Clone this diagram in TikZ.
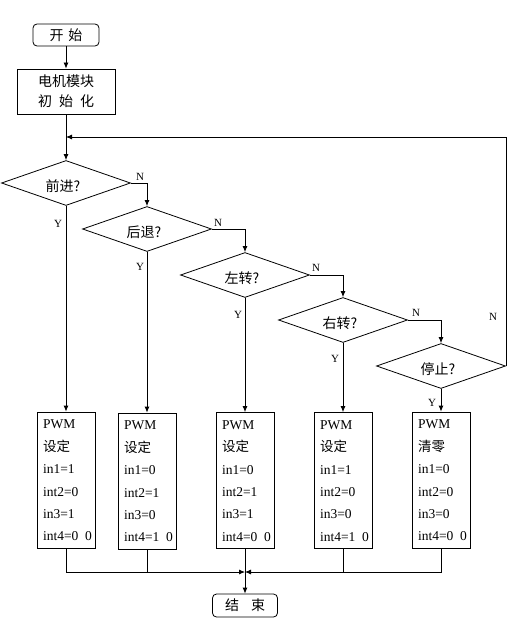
\documentclass[tikz,border=0pt]{standalone}
\usepackage{fontspec}
\setmainfont{Liberation Serif}
\newfontfamily\cjk{Noto Sans CJK SC}
\usetikzlibrary{arrows.meta,shapes.geometric}
\begin{document}
\begin{tikzpicture}[x=1pt,y=-1pt,line width=0.8pt,
  arr/.style={-{Latex[length=6pt,width=5pt]}},
  lbl/.style={font=\fontsize{11}{13}\selectfont, inner sep=0},
  term/.style={draw, rounded corners=4pt, minimum width=66, minimum height=22, inner sep=0, font=\cjk\fontsize{14}{16}\selectfont},
  proc/.style={draw, minimum width=98, minimum height=45, inner sep=0, align=center, font=\cjk\fontsize{14}{20}\selectfont},
  dec/.style={draw, diamond, aspect=2.8, minimum width=129, minimum height=45, inner sep=0},
  dtxt/.style={inner sep=0, font=\cjk\fontsize{14}{16}\selectfont},
  pwm/.style={draw, minimum width=58, minimum height=136, inner sep=0},
  pwmtxt/.style={anchor=north west, inner sep=0, align=left, font=\fontsize{13.5}{22.4}\selectfont}
]
\useasboundingbox (0,0) rectangle (528,618);

% start and init
\node[term] (start) at (66,35) {开\hspace{5pt}始};
\node[proc] (init) at (66,91.5) {电机模块\\初\hspace{7pt}始\hspace{7pt}化};
\draw[arr] (start.south) -- (init.north);

% decisions
\node[dec] (d1) at (66,183) {};
\node[dec] (d2) at (147,229) {};
\node[dec] (d3) at (245,275) {};
\node[dec] (d4) at (343,320) {};
\node[dec] (d5) at (441,366) {};
\node[dtxt] (d1t) at ([shift={(-3,3)}]d1.center) {前进?};
\node[dtxt] (d2t) at ([shift={(-3,3)}]d2.center) {后退?};
\node[dtxt] (d3t) at ([shift={(-3,3)}]d3.center) {左转?};
\node[dtxt] (d4t) at ([shift={(-3,3)}]d4.center) {右转?};
\node[dtxt] (d5t) at ([shift={(-3,3)}]d5.center) {停止?};

\coordinate (lp) at (66,137);
\draw[arr] (init.south) -- (d1.north);
\draw[arr] (d5.east) |- (lp);

\draw[arr] (d1.east) -| (d2.north);
\draw[arr] (d2.east) -| (d3.north);
\draw[arr] (d3.east) -| (d4.north);
\draw[arr] (d4.east) -| (d5.north);

\node[lbl] (n1) at (140,177) {N};
\node[lbl] (n2) at (218,223) {N};
\node[lbl] (n3) at (316,268) {N};
\node[lbl] (n4) at (416,313) {N};
\node[lbl] (n5) at (493,317) {N};

\node[lbl] (y1) at (58,224) {Y};
\node[lbl] (y2) at (140,267) {Y};
\node[lbl] (y3) at (238,315) {Y};
\node[lbl] (y4) at (335,359) {Y};
\node[lbl] (y5) at (432,403) {Y};

% PWM boxes
\node[pwm] (b1) at (66,480) {};
\node[pwm] (b2) at (147,481) {};
\node[pwm] (b3) at (245,480.5) {};
\node[pwm] (b4) at (343,480.5) {};
\node[pwm] (b5) at (441,480) {};

\node[pwmtxt] (t1) at ([shift={(6,8)}]b1.north west) {PWM\\{\cjk 设定}\\in1=1\\int2=0\\in3=1\\int4=0\ \ 0};
\node[pwmtxt] (t2) at ([shift={(6,8)}]b2.north west) {PWM\\{\cjk 设定}\\in1=0\\int2=1\\in3=0\\int4=1\ \ 0};
\node[pwmtxt] (t3) at ([shift={(6,8)}]b3.north west) {PWM\\{\cjk 设定}\\in1=0\\int2=1\\in3=1\\int4=0\ \ 0};
\node[pwmtxt] (t4) at ([shift={(6,8)}]b4.north west) {PWM\\{\cjk 设定}\\in1=1\\int2=0\\in3=0\\int4=1\ \ 0};
\node[pwmtxt] (t5) at ([shift={(6,8)}]b5.north west) {PWM\\{\cjk 清零}\\in1=0\\int2=0\\in3=0\\int4=0\ \ 0};

\draw[arr] (d1.south) -- (b1.north);
\draw[arr] (d2.south) -- (b2.north);
\draw[arr] (d3.south) -- (b3.north);
\draw[arr] (d4.south) -- (b4.north);
\draw[arr] (d5.south) -- (b5.north);

% merge
\coordinate (m) at (245,572);
\node[term, minimum width=65, minimum height=23] (end) at (245,605.5) {结\hspace{12pt}束};
\draw[arr] (b1.south) |- (m);
\draw[arr] (b5.south) |- (m);
\draw (b2.south) -- (b2.south |- m);
\draw (b4.south) -- (b4.south |- m);
\draw[arr] (b3.south) -- (end.north);
\end{tikzpicture}
\end{document}
